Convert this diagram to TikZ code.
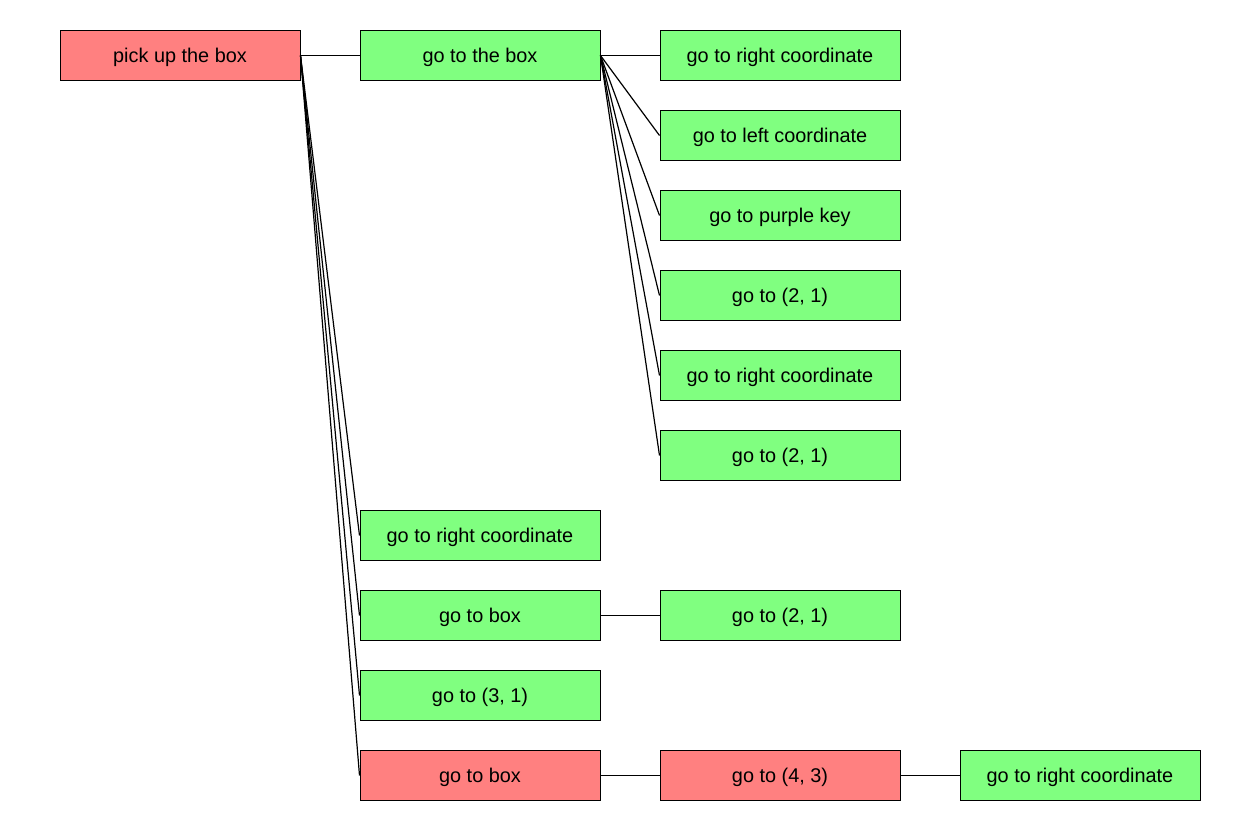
\documentclass[tikz,border=0pt]{standalone}
\usepackage{fontspec}
\setmainfont{Liberation Sans}
\definecolor{nred}{HTML}{FF8080}
\definecolor{ngreen}{HTML}{80FF80}
\begin{document}
\begin{tikzpicture}[x=0.75pt,y=-0.75pt,
  box/.style={draw=black,line width=0.75pt,minimum width=180pt,minimum height=37.5pt,inner sep=0pt,text height=10.7pt,text depth=0pt,font=\fontsize{14.9}{17}\selectfont},
  gbox/.style={box,fill=ngreen},
  rbox/.style={box,fill=nred},
  edge/.style={draw=black,line width=0.9pt}]
\useasboundingbox (0,0) rectangle (1260,830);
\node[rbox] (a) at (180,55.5) {pick up the box};
\node[gbox] (b) at (480,55.5) {go to the box};
\node[gbox] (b1) at (780,55.5) {go to right coordinate};
\node[gbox] (b2) at (780,135.5) {go to left coordinate};
\node[gbox] (b3) at (780,215.5) {go to purple key};
\node[gbox] (b4) at (780,295.5) {go to (2, 1)};
\node[gbox] (b5) at (780,375.5) {go to right coordinate};
\node[gbox] (b6) at (780,455.5) {go to (2, 1)};
\node[gbox] (c) at (480,535.5) {go to right coordinate};
\node[gbox] (d) at (480,615.5) {go to box};
\node[gbox] (d1) at (780,615.5) {go to (2, 1)};
\node[gbox] (e) at (480,695.5) {go to (3, 1)};
\node[rbox] (f) at (480,775.5) {go to box};
\node[rbox] (f1) at (780,775.5) {go to (4, 3)};
\node[gbox] (f2) at (1080,775.5) {go to right coordinate};
\foreach \t in {b,c,d,e,f} \draw[edge] (a.east) -- (\t.west);
\foreach \t in {b1,b2,b3,b4,b5,b6} \draw[edge] (b.east) -- (\t.west);
\draw[edge] (d.east) -- (d1.west);
\draw[edge] (f.east) -- (f1.west);
\draw[edge] (f1.east) -- (f2.west);
\end{tikzpicture}
\end{document}
